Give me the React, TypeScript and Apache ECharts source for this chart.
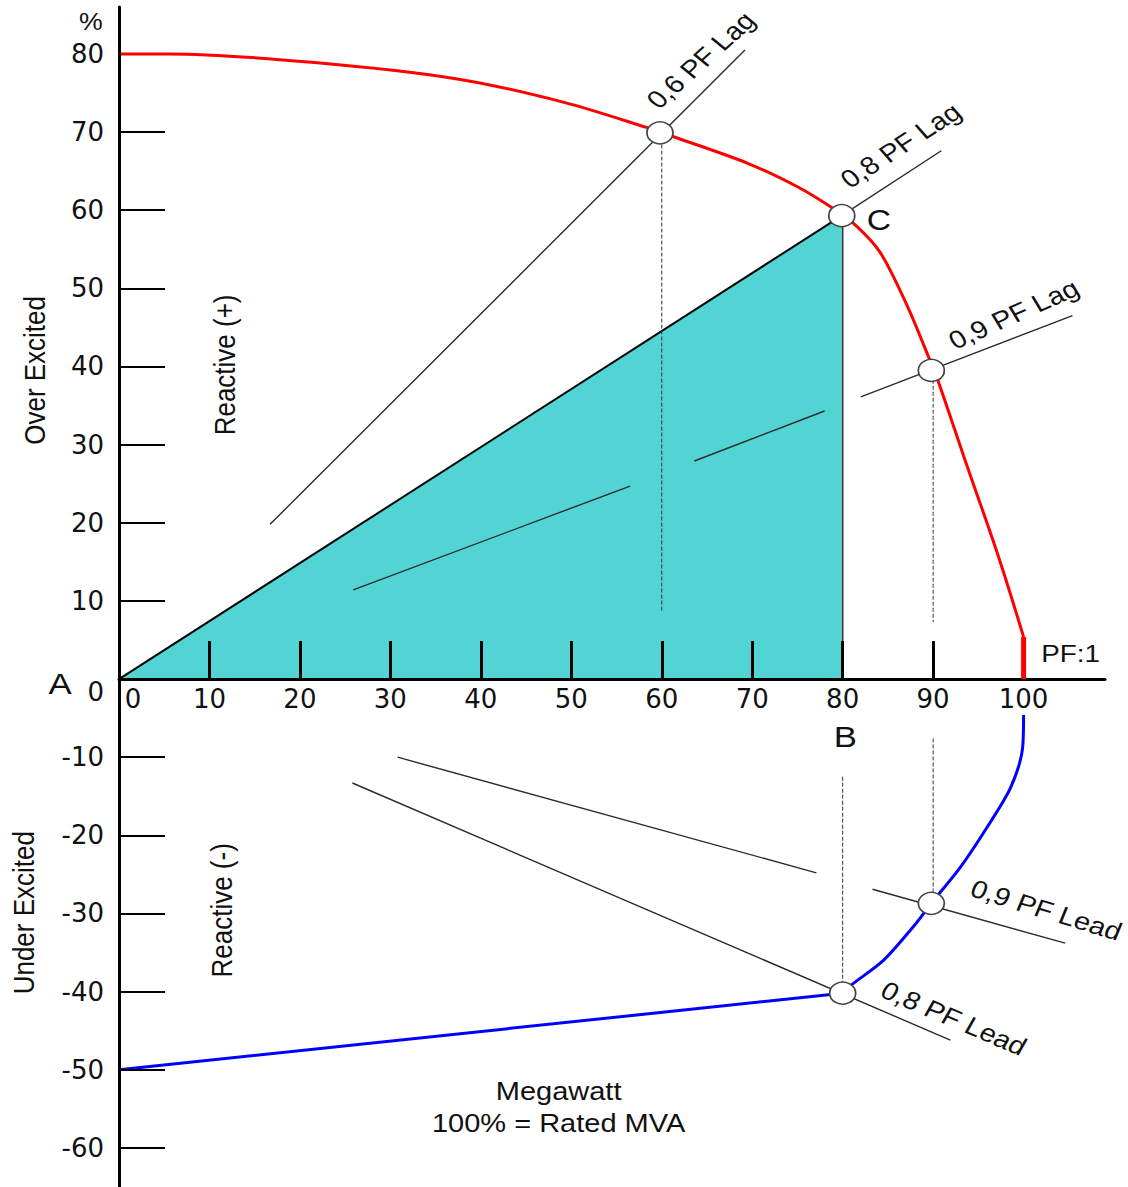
import React, { useEffect, useRef } from 'react';
import * as echarts from 'echarts';

// ---- axis ticks / labels ----
const X_TICKS = [10, 20, 30, 40, 50, 60, 70, 80, 90, 100];
const X_LABELS = [0, 10, 20, 30, 40, 50, 60, 70, 80, 90, 100];
const Y_TICKS = [-60, -50, -40, -30, -20, -10, 10, 20, 30, 40, 50, 60, 70];
const Y_LABELS = [-60, -50, -40, -30, -20, -10, 0, 10, 20, 30, 40, 50, 60, 70, 80];

// ---- capability curves (x = MW %, y = MVAr %) ----
const OVER_EXCITED_LIMIT = [
  [0, 80], [5.5, 80], [21.6, 78.9], [37.4, 76.8], [49.2, 73.8], [58.3, 70.6], [61.3, 69.4],
  [69.5, 66.0], [75.0, 63.0], [78.7, 60.4], [81.5, 58.0], [84.2, 54.5], [87.2, 47.6],
  [89.5, 41.2], [90.5, 38.3], [93.8, 27.1], [97.1, 16.1], [100, 5.4],
];
const UNITY_PF_LIMIT = [[100, 5.4], [100, 0]];
const UNDER_EXCITED_STRAIGHT = [[0, -50], [80, -40.2]];
const UNDER_EXCITED_CURVE = [
  [80, -40.2], [80.9, -39.2], [84.5, -36.0], [87.8, -31.7], [89.8, -28.7], [93.0, -24.1],
  [96.0, -18.9], [98.6, -13.8], [99.9, -8.7], [100, -4.6],
];

// ---- active power triangle A-B-C ----
const TRIANGLE_HYPOTENUSE = [[0, 0], [79.9, 59.3]];
const TRIANGLE_EDGE = [[80, 0], [80, 58.6]];

// ---- power factor lines (segments) ----
const PF06_LAG = [[[16.7, 19.8], [69.2, 80.5]]];
const PF08_LAG = [[[79.9, 59.3], [90.9, 67.6]]];
const PF09_LAG = [
  [[25.9, 11.4], [56.5, 24.7]],
  [[63.6, 27.9], [78.0, 34.3]],
  [[82.0, 36.1], [105.4, 46.5]],
];
const PF09_LEAD = [
  [[30.8, -10.0], [77.1, -24.8]],
  [[83.3, -26.9], [104.6, -33.8]],
];
const PF08_LEAD = [[[25.8, -13.3], [91.9, -46.2]]];
const DROP_LINES = [
  [[60, 68.4], [60, 8.6]],
  [[90, 38.3], [90, 7.3]],
  [[80, -12.5], [80, -40.2]],
  [[90, -7.6], [90, -28.7]],
];
const OPERATING_POINTS = [[59.8, 69.9], [79.9, 59.3], [89.8, 39.5], [89.8, -28.7], [80, -40.2]];

// ---- annotations: text, anchor (data coords), visible angle (deg), font size ----
const ANNOTATIONS: { text: string; at: number[]; angle: number; size: number }[] = [
  { text: '%', at: [-3.1, 84.1], angle: 0, size: 23 },
  { text: 'A', at: [-6.5, -0.6], angle: 0, size: 30 },
  { text: 'B', at: [80.3, -7.4], angle: 0, size: 30 },
  { text: 'C', at: [84.0, 58.7], angle: 0, size: 29 },
  { text: 'PF:1', at: [105.2, 3.2], angle: 0, size: 24 },
  { text: 'Active Power', at: [43.4, 9.5], angle: 0, size: 25 },
  { text: 'Megawatt', at: [48.6, -52.7], angle: 0, size: 25 },
  { text: '100% = Rated MVA', at: [48.6, -56.8], angle: 0, size: 25 },
  { text: 'Over Excited', at: [-9.3, 39.5], angle: 90, size: 26 },
  { text: 'Reactive (+)', at: [11.7, 40.2], angle: 90, size: 26 },
  { text: 'Under Excited', at: [-10.5, -29.9], angle: 90, size: 26 },
  { text: 'Reactive (-)', at: [11.4, -29.6], angle: 90, size: 26 },
  { text: '0,6 PF Lag', at: [64.3, 79.2], angle: 42, size: 25 },
  { text: '0,8 PF Lag', at: [86.4, 68.3], angle: 33, size: 25 },
  { text: '0,9 PF Lag', at: [98.9, 46.7], angle: 24, size: 25 },
  { text: '0,9 PF Lead', at: [102.5, -29.6], angle: -17, size: 25 },
  { text: '0,8 PF Lead', at: [92.3, -43.4], angle: -23, size: 25 },
];

const STRETCH = 1.16;
const TEXT_FONT = "'Liberation Sans', Arial, sans-serif";
const AXIS_FONT = "'DejaVu Sans', sans-serif";
const PF_COLOR = '#2b2b2b';

const seg = (data: number[][], color: string, width: number, type: any = 'solid', z = 3) => ({
  type: 'line',
  data,
  symbol: 'none',
  silent: true,
  clip: false,
  lineStyle: { color, width, type },
  z,
});

export default function App() {
  const ref = useRef<HTMLDivElement>(null);

  useEffect(() => {
    const chart = echarts.init(ref.current!, null, { renderer: 'svg' });

    const series: any[] = [
      {
        type: 'line',
        data: TRIANGLE_HYPOTENUSE,
        symbol: 'none',
        silent: true,
        lineStyle: { color: '#000', width: 2 },
        areaStyle: { color: '#52d4d4', opacity: 1 },
        z: 1,
      },
      seg(TRIANGLE_EDGE, '#333', 1.6, 'solid', 2),
      ...PF06_LAG.map((d) => seg(d, PF_COLOR, 1.4)),
      ...PF08_LAG.map((d) => seg(d, PF_COLOR, 1.4)),
      ...PF09_LAG.map((d) => seg(d, PF_COLOR, 1.4)),
      ...PF09_LEAD.map((d) => seg(d, PF_COLOR, 1.4)),
      ...PF08_LEAD.map((d) => seg(d, PF_COLOR, 1.4)),
      ...DROP_LINES.map((d) => seg(d, '#333', 1, [4, 2])),
      { ...seg(OVER_EXCITED_LIMIT, '#ff0000', 3, 'solid', 4), smooth: 0.3 },
      seg(UNITY_PF_LIMIT, '#ff0000', 5, 'solid', 8),
      seg(UNDER_EXCITED_STRAIGHT, '#0000ff', 3, 'solid', 4),
      { ...seg(UNDER_EXCITED_CURVE, '#0000ff', 3, 'solid', 4), smooth: 0.3 },
      {
        type: 'scatter',
        data: OPERATING_POINTS,
        symbol: 'circle',
        symbolSize: [26, 22],
        silent: true,
        itemStyle: { color: '#fff', borderColor: '#444', borderWidth: 1.6, opacity: 1 },
        z: 10,
      },
    ];

    chart.setOption({
      animation: false,
      backgroundColor: '#fff',
      grid: { left: 119, right: 23, top: 7, bottom: 0, containLabel: false, outerBoundsMode: 'none' },
      xAxis: {
        type: 'value',
        min: 0,
        max: 109,
        z: 6,
        position: 'bottom',
        axisLine: { show: true, onZero: false, lineStyle: { color: '#000', width: 3 } },
        axisTick: {
          show: true,
          inside: true,
          length: 38,
          customValues: X_TICKS,
          lineStyle: { color: '#000', width: 3 },
        },
        axisLabel: {
          customValues: X_LABELS,
          margin: 7,
          fontSize: 26,
          fontFamily: AXIS_FONT,
          color: '#111',
          formatter: (v: number) => (v === 0 ? '{z|0}' : String(v)),
          rich: { z: { fontSize: 26, fontFamily: AXIS_FONT, color: '#111', padding: [0, 0, 0, 28] } },
        },
        splitLine: { show: false },
      },
      yAxis: {
        type: 'value',
        min: -65,
        max: 86,
        z: 6,
        axisLine: { show: true, onZero: false, lineStyle: { color: '#000', width: 3 } },
        axisTick: {
          show: true,
          inside: true,
          length: 46,
          customValues: Y_TICKS,
          lineStyle: { color: '#000', width: 2 },
        },
        axisLabel: {
          customValues: Y_LABELS,
          margin: 15,
          fontSize: 26,
          fontFamily: AXIS_FONT,
          color: '#111',
          formatter: (v: number) => (v === 0 ? '{z|0}' : String(v)),
          rich: { z: { fontSize: 26, fontFamily: AXIS_FONT, color: '#111', padding: [26, 0, 0, 0] } },
        },
        splitLine: { show: false },
      },
      series,
    });

    // move the x axis (line, ticks and labels) up to y = 0
    const zeroY = chart.convertToPixel({ yAxisIndex: 0 }, 0) as number;
    const gridBottomY = chart.convertToPixel({ yAxisIndex: 0 }, -65) as number;
    chart.setOption({ xAxis: { offset: zeroY - gridBottomY } });

    const graphic = ANNOTATIONS.map((a) => {
      const [x, y] = chart.convertToPixel({ gridIndex: 0 }, a.at) as number[];
      const phi = (a.angle * Math.PI) / 180;
      const rot = Math.abs(a.angle) === 90 ? phi : Math.atan(STRETCH * Math.tan(phi));
      return {
        type: 'group',
        x,
        y,
        scaleX: STRETCH,
        silent: true,
        z: 20,
        children: [
          {
            type: 'text',
            rotation: rot,
            style: {
              text: a.text,
              fontSize: a.size,
              fontFamily: TEXT_FONT,
              fill: '#111',
              align: 'center',
              verticalAlign: 'middle',
            },
          },
        ],
      };
    });
    chart.setOption({ graphic });

    return () => chart.dispose();
  }, []);

  return (
    <div
      ref={ref}
      style={{ position: 'fixed', left: 0, top: 0, width: 1128, height: 1187, background: '#fff' }}
    />
  );
}
